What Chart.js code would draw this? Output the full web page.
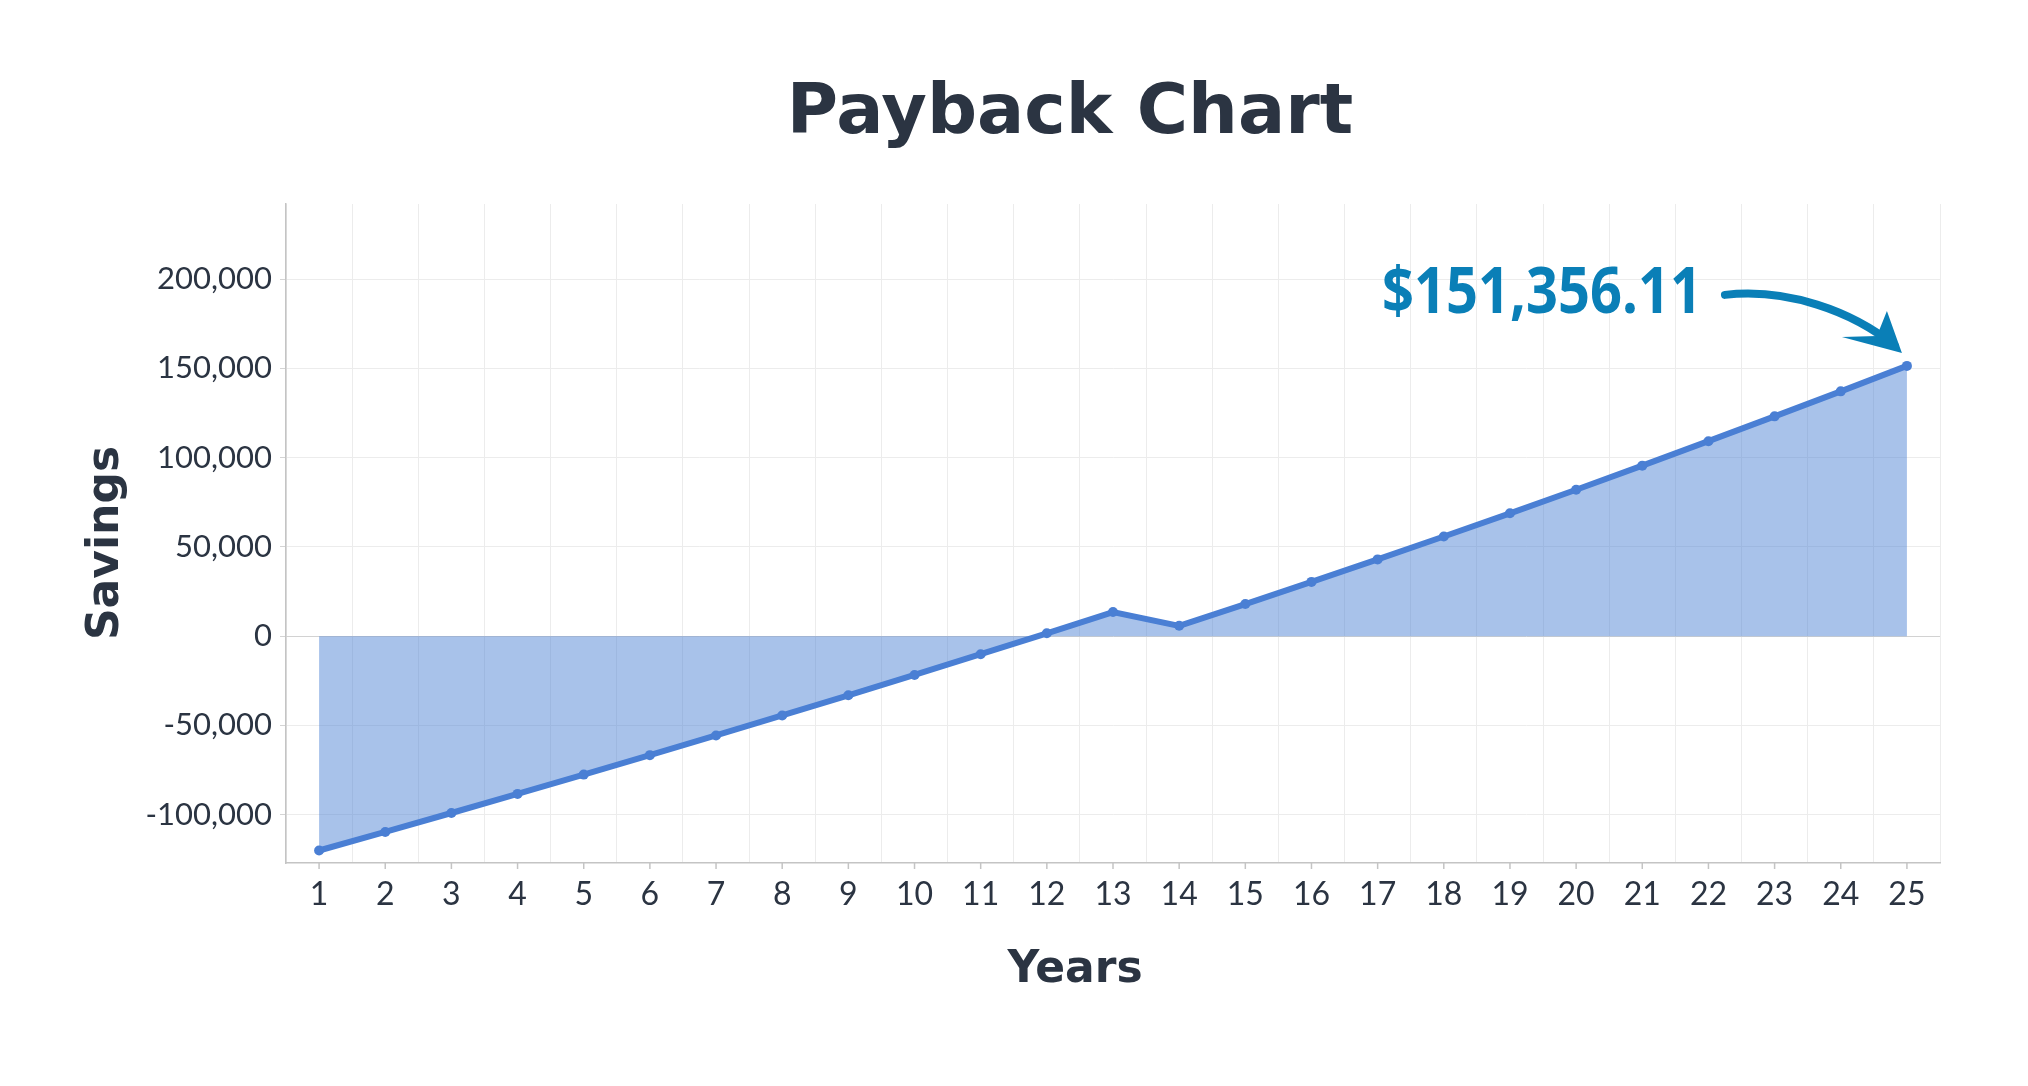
<!DOCTYPE html>
<html>
<head>
<meta charset="utf-8">
<title>Payback Chart</title>
<script src="https://cdn.jsdelivr.net/npm/chart.js"></script>
<style>
  html, body { margin: 0; padding: 0; background: #ffffff; }
  .chart-container { position: relative; width: 2028px; height: 1086px; }
</style>
</head>
<body>
<div class="chart-container">
  <canvas id="paybackChart" width="2028" height="1086"></canvas>
</div>
<script>
// chart data
const years = ["1", "2", "3", "4", "5", "6", "7", "8", "9", "10", "11", "12", "13",
  "14", "15", "16", "17", "18", "19", "20", "21", "22", "23", "24", "25"];
const savings = [-120000, -109600, -99000, -88300, -77500, -66600, -55600, -44400,
  -33100, -21700, -10100, 1600, 13500, 5800, 18000, 30400, 43000, 55800, 68800,
  82000, 95500, 109200, 123100, 137100, 151356.11];
const yTickValues = [-100000, -50000, 0, 50000, 100000, 150000, 200000];
const chartTitle = "Payback Chart";
const xTitle = "Years";
const yTitle = "Savings";
const finalLabel = "$151,356.11";

const textColor = "#2b3442";
const lineColor = "#4a7fd4";
const noteColor = "#0a7fb7";

// titles, x tick marks and the final value note
const overlayPlugin = {
  id: "overlay",
  afterDraw(chart) {
    const ctx = chart.ctx;
    const area = chart.chartArea;
    ctx.save();

    ctx.fillStyle = textColor;
    ctx.textAlign = "center";
    ctx.textBaseline = "alphabetic";
    ctx.font = 'bold 70px "DejaVu Sans"';
    ctx.fillText(chartTitle, 1070, 133);
    ctx.font = 'bold 44px "DejaVu Sans"';
    ctx.fillText(xTitle, 1075, 982);

    // rotated y title
    ctx.save();
    ctx.translate(107, 543);
    ctx.rotate(-Math.PI / 2);
    ctx.textBaseline = "middle";
    ctx.fillText(yTitle, 0, 0);
    ctx.restore();

    // small tick marks under each year label
    const xs = chart.scales.x;
    ctx.strokeStyle = "#c4c4c4";
    ctx.lineWidth = 1.5;
    years.forEach((_, i) => {
      const x = xs.getPixelForValue(i);
      ctx.beginPath();
      ctx.moveTo(x, area.bottom);
      ctx.lineTo(x, area.bottom + 6);
      ctx.stroke();
    });

    // note pointing at the last point
    const meta = chart.getDatasetMeta(0);
    const last = meta.data[meta.data.length - 1];
    const px = last.x, py = last.y;

    ctx.fillStyle = noteColor;
    ctx.font = 'bold 65px "Open Sans"';
    ctx.textAlign = "left";
    const w = ctx.measureText(finalLabel).width;
    const targetW = 320;
    ctx.save();
    ctx.translate(px - 205 - targetW, py - 53);
    ctx.scale(targetW / w, 1);
    ctx.fillText(finalLabel, 0, 0);
    ctx.restore();

    ctx.strokeStyle = noteColor;
    ctx.lineWidth = 8;
    ctx.lineCap = "round";
    ctx.beginPath();
    ctx.moveTo(px - 182, py - 71);
    ctx.bezierCurveTo(px - 120, py - 78, px - 55, py - 55, px - 12, py - 20);
    ctx.stroke();

    ctx.beginPath();
    ctx.moveTo(px - 20, py - 55);
    ctx.lineTo(px - 5, py - 13);
    ctx.lineTo(px - 65, py - 29);
    ctx.lineTo(px - 30, py - 30);
    ctx.closePath();
    ctx.fill();

    ctx.restore();
  }
};

const ctx = document.getElementById("paybackChart").getContext("2d");
new Chart(ctx, {
  type: "line",
  data: {
    labels: years,
    datasets: [{
      label: yTitle,
      data: savings,
      borderColor: lineColor,
      backgroundColor: "rgba(74, 127, 212, 0.48)",
      fill: "origin",
      borderWidth: 6,
      tension: 0,
      pointRadius: 5,
      pointBackgroundColor: lineColor,
      pointBorderColor: lineColor,
      pointBorderWidth: 0,
      pointHoverRadius: 5,
    }],
  },
  options: {
    responsive: false,
    devicePixelRatio: 1,
    animation: false,
    layout: {
      padding: { left: 70, right: 88, top: 204, bottom: 163 },
    },
    plugins: {
      legend: { display: false },
      title: { display: false },
      tooltip: { enabled: false },
    },
    scales: {
      x: {
        offset: true,
        grid: {
          offset: true,
          color: "#ececec",
          lineWidth: 1,
          drawTicks: false,
        },
        border: { color: "#c4c4c4", width: 1.5 },
        ticks: {
          color: textColor,
          font: { family: "Lato", size: 32 },
          padding: 12,
          maxRotation: 0,
          autoSkip: false,
        },
        afterFit(scale) { scale.height = 60; },
      },
      y: {
        min: -127000,
        max: 242000,
        grid: {
          color: (c) => (c.tick && c.tick.value === 0 ? "#d2d2d2" : "#ececec"),
          lineWidth: 1,
          tickLength: 6,
          tickColor: "#d4d4d4",
        },
        border: { color: "#c4c4c4", width: 1.5 },
        ticks: {
          color: textColor,
          font: { family: "Lato", size: 31 },
          padding: 8,
          callback: (v) => v.toLocaleString("en-US"),
        },
        afterBuildTicks(scale) {
          scale.ticks = yTickValues.map((v) => ({ value: v }));
        },
        afterFit(scale) { scale.width = 216; },
      },
    },
  },
  plugins: [overlayPlugin],
});
</script>
</body>
</html>
